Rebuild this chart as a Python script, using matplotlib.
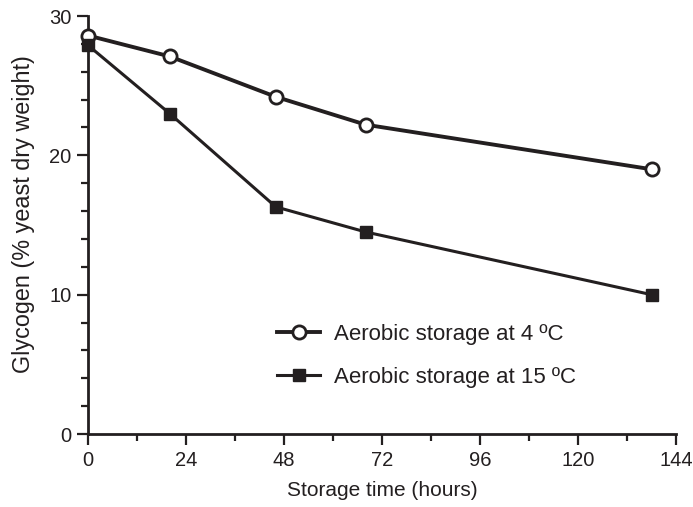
import numpy as np
import matplotlib
matplotlib.use("Agg")
import matplotlib.pyplot as plt
from matplotlib.ticker import MultipleLocator

# glycogen content over storage time
hours = [0, 20, 46, 68, 138]
glycogen_4c = [28.6, 27.1, 24.2, 22.2, 19.0]
glycogen_15c = [27.9, 23.0, 16.3, 14.5, 10.0]

x_ticks = [0, 24, 48, 72, 96, 120, 144]
y_ticks = [0, 10, 20, 30]

ink = "#231f20"
plt.rcParams["font.family"] = ["Liberation Sans", "DejaVu Sans"]

fig = plt.figure(figsize=(6.93, 5.07), dpi=100)
ax = fig.add_axes([88 / 693, 1 - 434 / 507, 588 / 693, 418 / 507])

ax.plot(hours, glycogen_4c, color=ink, lw=2.8, marker="o", ms=9.5,
        mfc="white", mec=ink, mew=2.0, label="Aerobic storage at 4 ºC",
        clip_on=False, zorder=3)
ax.plot(hours, glycogen_15c, color=ink, lw=2.2, marker="s", ms=8.5,
        mfc=ink, mec=ink, label="Aerobic storage at 15 ºC",
        clip_on=False, zorder=3)

ax.set_xlim(0, 144)
ax.set_ylim(0, 30)
ax.set_xticks(x_ticks)
ax.set_yticks(y_ticks)
ax.xaxis.set_minor_locator(MultipleLocator(12))
ax.yaxis.set_minor_locator(MultipleLocator(2))

for side in ("top", "right"):
    ax.spines[side].set_visible(False)
for side in ("left", "bottom"):
    ax.spines[side].set_linewidth(2.0)
    ax.spines[side].set_color(ink)

ax.tick_params(which="major", length=8, width=1.6, color=ink,
               labelsize=14.5, labelcolor=ink, pad=4)
ax.tick_params(which="minor", length=5, width=1.6, color=ink)

ax.set_xlabel("Storage time (hours)", fontsize=15, color=ink, labelpad=8)
ax.set_ylabel("Glycogen (% yeast dry weight)", fontsize=16.8, color=ink)
ax.yaxis.set_label_coords(-0.090, 0.526)

ax.legend(loc="upper left", bbox_to_anchor=(277 / 693, 1 - 324 / 507),
          bbox_transform=fig.transFigure, frameon=False, fontsize=16,
          handlelength=1.95, handletextpad=0.6, labelspacing=1.0,
          borderpad=0, borderaxespad=0, labelcolor=ink)

fig.savefig("out.png", dpi=100)
